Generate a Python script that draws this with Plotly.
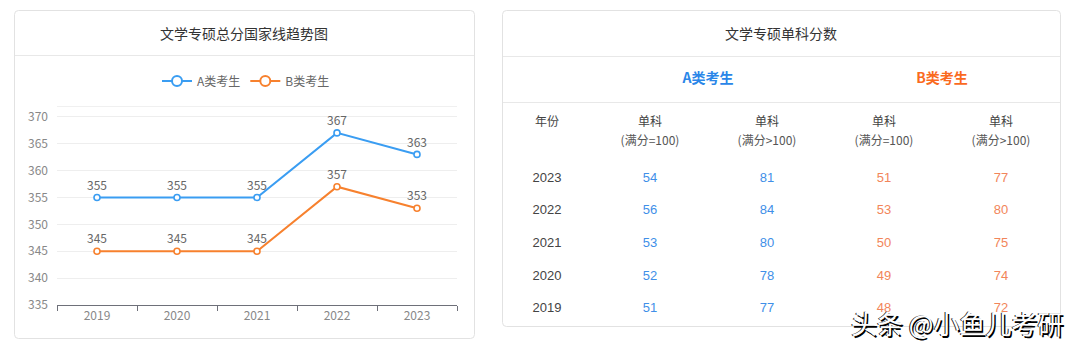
import plotly.graph_objects as go

# ---- data ----
years = ["2019", "2020", "2021", "2022", "2023"]
total_a = [355, 355, 355, 367, 363]
total_b = [345, 345, 345, 357, 353]

table_years = ["2023", "2022", "2021", "2020", "2019"]
a_single_100 = [54, 56, 53, 52, 51]
a_single_over = [81, 84, 80, 78, 77]
b_single_100 = [51, 53, 50, 49, 48]
b_single_over = [77, 80, 75, 74, 72]

BLUE = "#3a9df2"
ORANGE = "#f7812e"
W, H = 1080, 348
CJK = "Noto Sans CJK SC, Liberation Sans, sans-serif"
SANS = "Liberation Sans, Noto Sans CJK SC, sans-serif"


def px(x):
    return x / W


def py(y):
    return 1 - y / H


fig = go.Figure()

# ---- line chart ----
for name, vals, col in [("A类考生", total_a, BLUE), ("B类考生", total_b, ORANGE)]:
    fig.add_trace(go.Scatter(
        x=years, y=vals, name=name, mode="lines+markers+text",
        text=[str(v) for v in vals], textposition="top center",
        textfont=dict(size=12, color="#666", family=CJK),
        line=dict(color=col, width=2),
        marker=dict(size=6, color="white", line=dict(color=col, width=1.6)),
        cliponaxis=False, hoverinfo="skip", showlegend=False,
    ))
    # legend entry with a larger hollow ring
    fig.add_trace(go.Scatter(
        x=[None], y=[None], name=name, mode="lines+markers",
        line=dict(color=col, width=2),
        marker=dict(size=10, color="white", line=dict(color=col, width=2)),
        hoverinfo="skip", showlegend=True,
    ))

# ---- table drawn on a full-canvas pixel axis ----
col_x = [547, 650, 767, 884, 1001]
row_y = [179, 211, 244, 277, 309]
cols = [
    (table_years, "#444"),
    (a_single_100, "#3f8fe8"),
    (a_single_over, "#3f8fe8"),
    (b_single_100, "#f2855a"),
    (b_single_over, "#f2855a"),
]
for cx, (vals, color) in zip(col_x, cols):
    fig.add_trace(go.Scatter(
        x=[cx] * len(vals), y=row_y, mode="text",
        text=[str(v) for v in vals], textposition="middle center",
        textfont=dict(size=13, color=color, family=SANS),
        xaxis="x2", yaxis="y2", showlegend=False, hoverinfo="skip",
    ))

# header row
header_top = ["年份", "单科", "单科", "单科", "单科"]
header_sub = ["", "(满分=100)", "(满分>100)", "(满分=100)", "(满分>100)"]
fig.add_trace(go.Scatter(
    x=col_x, y=[123] * 5, mode="text", text=header_top,
    textfont=dict(size=12, color="#444", family=CJK),
    xaxis="x2", yaxis="y2", showlegend=False, hoverinfo="skip",
))
fig.add_trace(go.Scatter(
    x=col_x, y=[142] * 5, mode="text", text=header_sub,
    textfont=dict(size=12, color="#555", family=CJK),
    xaxis="x2", yaxis="y2", showlegend=False, hoverinfo="skip",
))
fig.add_trace(go.Scatter(
    x=[708, 942], y=[79, 79], mode="text",
    text=["<b>A类考生</b>", "<b>B类考生</b>"],
    textfont=dict(size=14, color=["#2a86e8", "#fa6a1e"], family=CJK),
    xaxis="x2", yaxis="y2", showlegend=False, hoverinfo="skip",
))


def card(x0, y0, x1, y1, r=4):
    path = (f"M {x0+r},{y0} L {x1-r},{y0} Q {x1},{y0} {x1},{y0+r} "
            f"L {x1},{y1-r} Q {x1},{y1} {x1-r},{y1} L {x0+r},{y1} "
            f"Q {x0},{y1} {x0},{y1-r} L {x0},{y0+r} Q {x0},{y0} {x0+r},{y0} Z")
    return dict(type="path", path=path, xref="x2", yref="y2",
                line=dict(color="#e2e2e2", width=1), fillcolor="rgba(0,0,0,0)",
                layer="below")


def hline(x0, x1, y, color="#e8e8e8"):
    return dict(type="line", xref="x2", yref="y2", x0=x0, x1=x1, y0=y, y1=y,
                line=dict(color=color, width=1), layer="below")


shapes = [
    card(14.5, 10.5, 474.5, 338.5),
    card(502.5, 10.5, 1060.5, 326.5),
    hline(15, 474, 55.5),
    hline(503, 1060, 56.5),
    hline(503, 1060, 102.5),
    # top border line of the chart grid
    hline(57, 457, 106.5, "#f0f0f0"),
]

annotations = [
    dict(x=244, y=33, xref="x2", yref="y2", text="文学专硕总分国家线趋势图",
         showarrow=False, font=dict(size=14, color="#333", family=CJK)),
    dict(x=781, y=33, xref="x2", yref="y2", text="文学专硕单科分数",
         showarrow=False, font=dict(size=14, color="#333", family=CJK)),
    dict(x=957, y=322, xref="x2", yref="y2", text="头条 @小鱼儿考研",
         showarrow=False,
         font=dict(size=26, color="white", family=CJK,
                   shadow="1.5px 1.5px 0px #000, -1px -0.5px 0px #222")),
]

fig.update_layout(
    width=W, height=H,
    margin=dict(l=0, r=0, t=0, b=0, pad=0, autoexpand=False),
    paper_bgcolor="white", plot_bgcolor="rgba(0,0,0,0)",
    font=dict(family=CJK),
    showlegend=True,
    legend=dict(orientation="h", x=px(246), y=py(81), xanchor="center", yanchor="middle",
                font=dict(size=12, color="#666", family=CJK),
                tracegroupgap=0, bgcolor="rgba(0,0,0,0)"),
    xaxis=dict(domain=[px(57), px(457)], type="category", range=[-0.5, 4.5],
               showgrid=False, showline=True, linecolor="#6e7079", linewidth=1,
               ticks="outside", tickson="boundaries", ticklen=5, tickcolor="#6e7079",
               tickfont=dict(size=12, color="#888", family=CJK), fixedrange=True,
               anchor="y", automargin=False),
    yaxis=dict(domain=[py(305), py(106)], range=[335, 372], dtick=5, tick0=335,
               showgrid=True, gridcolor="#eeeeee", gridwidth=1, zeroline=False,
               showline=False, ticks="", ticklabelstandoff=8,
               tickfont=dict(size=12, color="#888", family=CJK), fixedrange=True,
               anchor="x", automargin=False),
    xaxis2=dict(domain=[0, 1], range=[0, W], visible=False, fixedrange=True,
                anchor="y2", automargin=False),
    yaxis2=dict(domain=[0, 1], range=[H, 0], visible=False, fixedrange=True,
                anchor="x2", automargin=False),
    shapes=shapes,
    annotations=annotations,
)

fig.write_html("out.html")
